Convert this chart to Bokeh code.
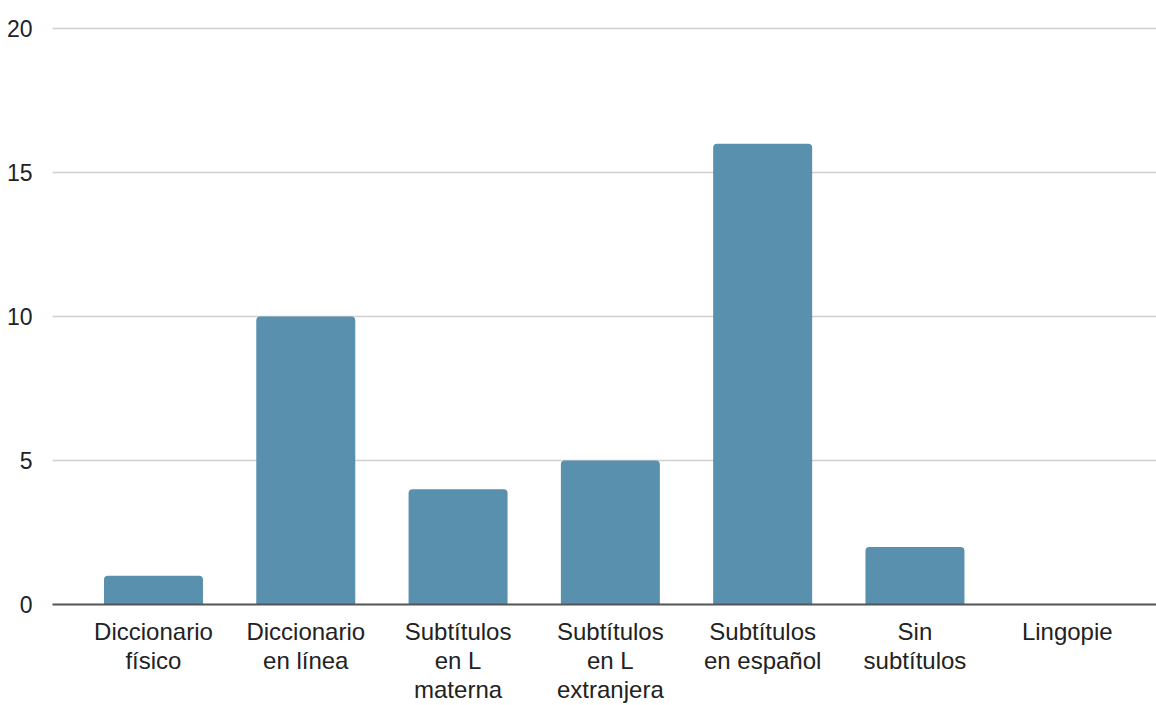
from bokeh.plotting import figure
from bokeh.models import Range1d, FixedTicker, ColumnDataSource
from bokeh.embed import file_html
from bokeh.resources import INLINE

categories = ["Diccionario\nfísico", "Diccionario\nen línea", "Subtítulos\nen L\nmaterna",
              "Subtítulos\nen L\nextranjera", "Subtítulos\nen español", "Sin\nsubtítulos", "Lingopie"]
values = [1, 10, 4, 5, 16, 2, 0]
y_ticks = [0, 5, 10, 15, 20]

xs = list(range(len(categories)))
src = ColumnDataSource(dict(x=xs, top=values))

p = figure(width=1156, height=705, output_backend="svg", toolbar_location=None,
           x_range=Range1d(-0.663, 6.586), y_range=Range1d(0, 20.207),
           min_border_left=52, min_border_right=0, min_border_top=22, min_border_bottom=90)
p.outline_line_color = None
p.background_fill_color = "white"

p.vbar(x="x", top="top", bottom=0, width=0.65, source=src,
       fill_color="#5890ae", line_color=None, border_radius=(4, 4, 0, 0))

p.xgrid.grid_line_color = None
p.ygrid.grid_line_color = "#cfcfcf"
p.ygrid.grid_line_width = 1.5
p.ygrid.ticker = FixedTicker(ticks=y_ticks)

p.yaxis.ticker = FixedTicker(ticks=y_ticks)
p.yaxis.axis_line_color = None
p.yaxis.major_tick_line_color = None
p.yaxis.minor_tick_line_color = None
p.yaxis.major_label_text_font = "Liberation Sans"
p.yaxis.major_label_text_font_size = "23px"
p.yaxis.major_label_text_color = "#222222"
p.yaxis.major_label_standoff = 14

p.xaxis.ticker = FixedTicker(ticks=xs)
p.xaxis.major_label_overrides = {i: c for i, c in zip(xs, categories)}
p.xaxis.axis_line_color = "#555555"
p.xaxis.axis_line_width = 2
p.xaxis.major_tick_line_color = None
p.xaxis.minor_tick_line_color = None
p.xaxis.major_label_text_font = "Liberation Sans"
p.xaxis.major_label_text_font_size = "24px"
p.xaxis.major_label_text_color = "#222222"
p.xaxis.major_label_text_line_height = 1.08
p.xaxis.major_label_standoff = 7

open("out.html", "w").write(file_html(p, INLINE))
